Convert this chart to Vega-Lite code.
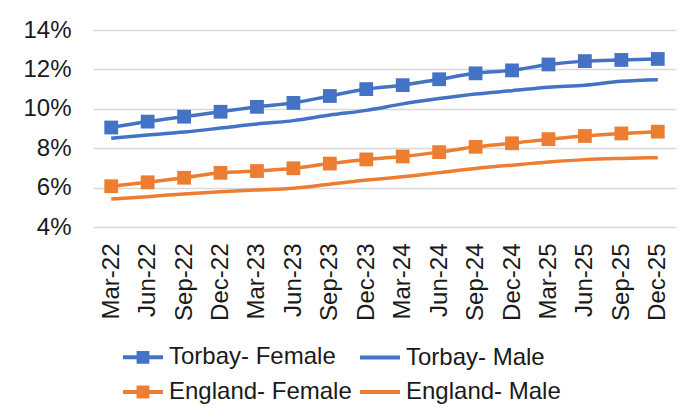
{
  "$schema": "https://vega.github.io/schema/vega-lite/v6.json",
  "autosize": "none",
  "width": 583,
  "height": 197,
  "padding": {"left": 93, "top": 30, "right": 15, "bottom": 192},
  "background": "white",
  "config": {
    "font": "Liberation Sans",
    "view": {"stroke": null},
    "axis": {"labelFont": "Liberation Sans", "labelColor": "#1a1a1a", "labelFontSize": 24, "ticks": false, "domain": false, "title": null}
  },
  "data": {
    "values": [
      {"q": "Mar-22", "s": "Torbay- Female", "v": 9.05},
      {"q": "Jun-22", "s": "Torbay- Female", "v": 9.35},
      {"q": "Sep-22", "s": "Torbay- Female", "v": 9.6},
      {"q": "Dec-22", "s": "Torbay- Female", "v": 9.85},
      {"q": "Mar-23", "s": "Torbay- Female", "v": 10.1},
      {"q": "Jun-23", "s": "Torbay- Female", "v": 10.3},
      {"q": "Sep-23", "s": "Torbay- Female", "v": 10.65},
      {"q": "Dec-23", "s": "Torbay- Female", "v": 11.0},
      {"q": "Mar-24", "s": "Torbay- Female", "v": 11.2},
      {"q": "Jun-24", "s": "Torbay- Female", "v": 11.5},
      {"q": "Sep-24", "s": "Torbay- Female", "v": 11.8},
      {"q": "Dec-24", "s": "Torbay- Female", "v": 11.95},
      {"q": "Mar-25", "s": "Torbay- Female", "v": 12.25},
      {"q": "Jun-25", "s": "Torbay- Female", "v": 12.42},
      {"q": "Sep-25", "s": "Torbay- Female", "v": 12.48},
      {"q": "Dec-25", "s": "Torbay- Female", "v": 12.53},
      {"q": "Mar-22", "s": "Torbay- Male", "v": 8.5},
      {"q": "Jun-22", "s": "Torbay- Male", "v": 8.67},
      {"q": "Sep-22", "s": "Torbay- Male", "v": 8.82},
      {"q": "Dec-22", "s": "Torbay- Male", "v": 9.02},
      {"q": "Mar-23", "s": "Torbay- Male", "v": 9.23},
      {"q": "Jun-23", "s": "Torbay- Male", "v": 9.4},
      {"q": "Sep-23", "s": "Torbay- Male", "v": 9.68},
      {"q": "Dec-23", "s": "Torbay- Male", "v": 9.92},
      {"q": "Mar-24", "s": "Torbay- Male", "v": 10.25},
      {"q": "Jun-24", "s": "Torbay- Male", "v": 10.52},
      {"q": "Sep-24", "s": "Torbay- Male", "v": 10.75},
      {"q": "Dec-24", "s": "Torbay- Male", "v": 10.92},
      {"q": "Mar-25", "s": "Torbay- Male", "v": 11.1},
      {"q": "Jun-25", "s": "Torbay- Male", "v": 11.2},
      {"q": "Sep-25", "s": "Torbay- Male", "v": 11.4},
      {"q": "Dec-25", "s": "Torbay- Male", "v": 11.48},
      {"q": "Mar-22", "s": "England- Female", "v": 6.07},
      {"q": "Jun-22", "s": "England- Female", "v": 6.27},
      {"q": "Sep-22", "s": "England- Female", "v": 6.5},
      {"q": "Dec-22", "s": "England- Female", "v": 6.75},
      {"q": "Mar-23", "s": "England- Female", "v": 6.84},
      {"q": "Jun-23", "s": "England- Female", "v": 6.98},
      {"q": "Sep-23", "s": "England- Female", "v": 7.22},
      {"q": "Dec-23", "s": "England- Female", "v": 7.43},
      {"q": "Mar-24", "s": "England- Female", "v": 7.58},
      {"q": "Jun-24", "s": "England- Female", "v": 7.8},
      {"q": "Sep-24", "s": "England- Female", "v": 8.07},
      {"q": "Dec-24", "s": "England- Female", "v": 8.25},
      {"q": "Mar-25", "s": "England- Female", "v": 8.46},
      {"q": "Jun-25", "s": "England- Female", "v": 8.62},
      {"q": "Sep-25", "s": "England- Female", "v": 8.75},
      {"q": "Dec-25", "s": "England- Female", "v": 8.84},
      {"q": "Mar-22", "s": "England- Male", "v": 5.42},
      {"q": "Jun-22", "s": "England- Male", "v": 5.54},
      {"q": "Sep-22", "s": "England- Male", "v": 5.68},
      {"q": "Dec-22", "s": "England- Male", "v": 5.79},
      {"q": "Mar-23", "s": "England- Male", "v": 5.88},
      {"q": "Jun-23", "s": "England- Male", "v": 5.97},
      {"q": "Sep-23", "s": "England- Male", "v": 6.17},
      {"q": "Dec-23", "s": "England- Male", "v": 6.38},
      {"q": "Mar-24", "s": "England- Male", "v": 6.55},
      {"q": "Jun-24", "s": "England- Male", "v": 6.76},
      {"q": "Sep-24", "s": "England- Male", "v": 6.97},
      {"q": "Dec-24", "s": "England- Male", "v": 7.14},
      {"q": "Mar-25", "s": "England- Male", "v": 7.3},
      {"q": "Jun-25", "s": "England- Male", "v": 7.42},
      {"q": "Sep-25", "s": "England- Male", "v": 7.48},
      {"q": "Dec-25", "s": "England- Male", "v": 7.52}
    ]
  },
  "encoding": {
    "x": {
      "field": "q",
      "type": "ordinal",
      "sort": ["Mar-22","Jun-22","Sep-22","Dec-22","Mar-23","Jun-23","Sep-23","Dec-23","Mar-24","Jun-24","Sep-24","Dec-24","Mar-25","Jun-25","Sep-25","Dec-25"],
      "scale": {"type": "point", "padding": 0.5},
      "axis": {"labelAngle": -90, "labelPadding": 16, "grid": false}
    },
    "y": {
      "field": "v",
      "type": "quantitative",
      "scale": {"domain": [4, 14], "nice": false, "zero": false},
      "axis": {"values": [4, 6, 8, 10, 12, 14], "labelExpr": "datum.value + '%'", "labelPadding": 22, "grid": true, "gridColor": "#d9d9d9", "gridWidth": 1.5}
    },
    "color": {
      "field": "s",
      "type": "nominal",
      "scale": {
        "domain": ["Torbay- Female", "Torbay- Male", "England- Female", "England- Male"],
        "range": ["#4472C4", "#4472C4", "#ED7D31", "#ED7D31"]
      },
      "legend": {
        "orient": "none",
        "legendX": 28,
        "legendY": 305,
        "direction": "horizontal",
        "columns": 2,
        "columnPadding": 0,
        "rowPadding": 0,
        "title": null,
        "labelFontSize": 24,
        "labelColor": "#1a1a1a",
        "labelOffset": 4,
        "symbolSize": 1600,
        "symbolStrokeWidth": 4,
        "symbolOpacity": 1,
        "labelLimit": 400,
        "encode": {
          "symbols": {
            "update": {
              "shape": {"signal": "test(/Female/, datum.value) ? 'M-1,0H1M-0.22,-0.22H0.22V0.22H-0.22Z' : 'M-1,0H1'"},
              "fill": {"scale": "color", "field": "value"},
              "stroke": {"scale": "color", "field": "value"},
              "strokeWidth": {"value": 4},
              "opacity": {"value": 1}
            }
          }
        }
      }
    }
  },
  "layer": [
    {
      "mark": {"type": "line", "strokeWidth": 3.5, "interpolate": "monotone"}
    },
    {
      "transform": [{"filter": "test(/Female/, datum.s)"}],
      "mark": {"type": "point", "shape": "square", "filled": true, "size": 190, "opacity": 1}
    }
  ]
}
